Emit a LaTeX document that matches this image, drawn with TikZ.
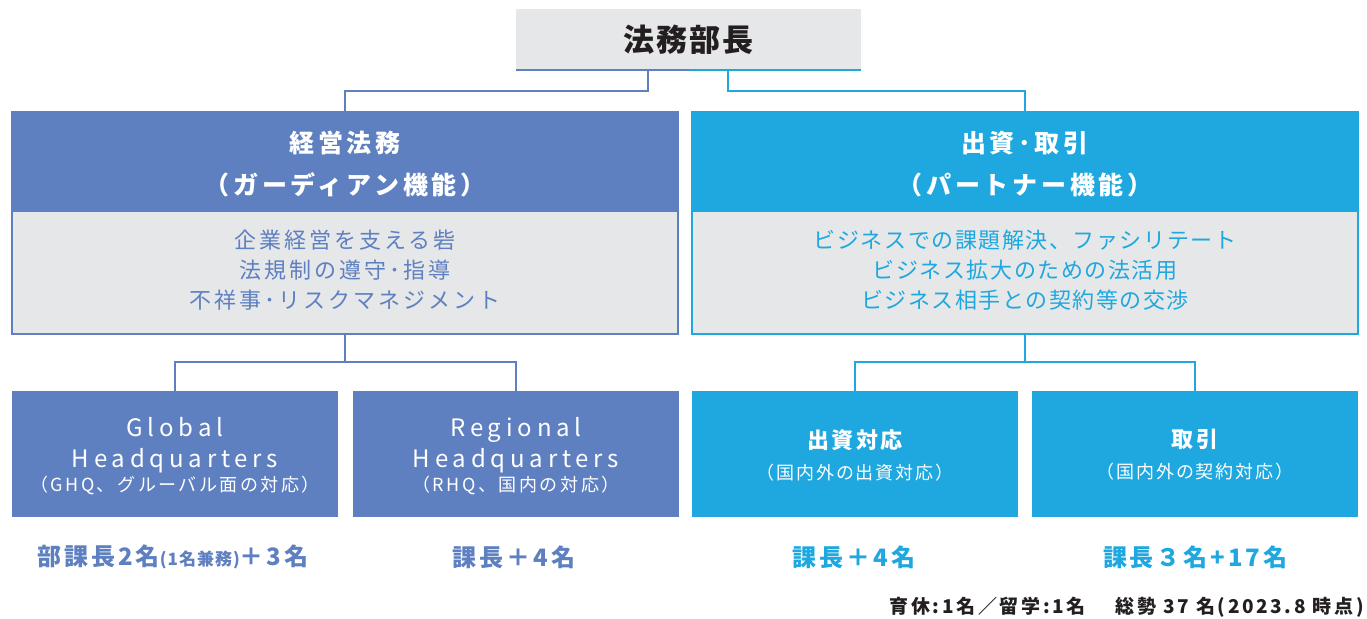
\documentclass[tikz,border=0pt]{standalone}
\usepackage{fontspec}
\setmainfont{Noto Sans CJK JP}
\definecolor{cb}{HTML}{5F80C0}
\definecolor{cc}{HTML}{1EA8DF}
\definecolor{cg}{HTML}{E6E7E8}
\definecolor{ck}{HTML}{231F20}
\newcommand{\ls}[1]{\addfontfeature{LetterSpace=#1}}
\tikzset{
  boxbase/.style={anchor=north west, inner sep=0pt, outer sep=0pt, align=center},
  headbox/.style={boxbase, minimum width=666pt, minimum height=99pt, text=white},
  bodybox/.style={boxbase, minimum width=666pt, minimum height=123pt, fill=cg, line width=2pt},
  unitbox/.style={boxbase, minimum width=326pt, minimum height=126pt, text=white},
  conn/.style={line width=2.5pt},
  count/.style={inner sep=0pt, anchor=center, font=\fontsize{24}{28}\selectfont\bfseries\ls{12}}
}
\begin{document}
\begin{tikzpicture}[x=1pt,y=-1pt]
\useasboundingbox (0,0) rectangle (1367,618);
% top
\node[boxbase, fill=cg, minimum width=345pt, minimum height=61pt, text=ck,
  font=\fontsize{31}{34}\selectfont\bfseries\ls{7}] (top) at (516,9) {法務部長};
\draw[cb, line width=2.5pt] (top.south west) -- (top.south);
\draw[cc, line width=2.5pt] (top.south) -- (top.south east);
% left big
\node[bodybox, draw=cb] (bl) at (12,211) {};
\node[headbox, fill=cb] (hl) at (12,112) {};
\draw[cb, line width=2pt] (hl.north west) rectangle (bl.south east);
\node[text=white, align=center, font=\fontsize{25}{42}\selectfont\bfseries\ls{15}] at ([yshift=-3pt]hl.center) {経営法務\\（ガーディアン機能）};
\node[text=cb, align=center, font=\fontsize{22}{30}\selectfont\ls{14}] at ([yshift=2pt]bl.center) {企業経営を支える砦\\法規制の遵守･指導\\不祥事･リスクマネジメント};
% right big
\node[bodybox, draw=cc] (br) at (692,211) {};
\node[headbox, fill=cc] (hr) at (692,112) {};
\draw[cc, line width=2pt] (hr.north west) rectangle (br.south east);
\node[text=white, align=center, font=\fontsize{25}{42}\selectfont\bfseries\ls{15}] at ([yshift=-3pt]hr.center) {出資･取引\\（パートナー機能）};
\node[text=cc, align=center, font=\fontsize{22}{30}\selectfont\ls{7}] at ([yshift=2pt]br.center) {ビジネスでの課題解決、ファシリテート\\ビジネス拡大のための法活用\\ビジネス相手との契約等の交渉};
% top connectors
\coordinate (jl) at (648,91);
\coordinate (jr) at (728,91);
\draw[cb, conn] (jl |- top.south) -- (jl) -| (hl.north);
\draw[cc, conn] (jr |- top.south) -- (jr) -| (hr.north);
% unit boxes
\node[unitbox, fill=cb] (ghq) at (12,391) {};
\node[unitbox, fill=cb] (rhq) at (353,391) {};
\node[unitbox, fill=cc] (inv) at (692,391) {};
\node[unitbox, fill=cc] (trd) at (1032,391) {};
\node[text=white, align=center, font=\fontsize{24}{31}\selectfont\ls{20}] at ([yshift=-2pt]ghq.center)
  {Global\\Headquarters\\[-7pt]{\fontsize{18}{20}\selectfont\ls{14}（GHQ、グルーバル面の対応）}};
\node[text=white, align=center, font=\fontsize{24}{31}\selectfont\ls{20}] at ([yshift=-2pt]rhq.center)
  {Regional\\Headquarters\\[-7pt]{\fontsize{18}{20}\selectfont\ls{14}（RHQ、国内の対応）}};
\node[text=white, align=center, font=\fontsize{22}{31}\selectfont\bfseries\ls{12}] at ([yshift=-1pt]inv.center)
  {出資対応\\{\fontsize{18}{20}\selectfont\mdseries\ls{10}（国内外の出資対応）}};
\node[text=white, align=center, font=\fontsize{22}{31}\selectfont\bfseries\ls{12}] at ([yshift=-1pt]trd.center)
  {取引\\{\fontsize{18}{20}\selectfont\mdseries\ls{10}（国内外の契約対応）}};
% lower connectors
\coordinate (ml) at (bl.south |- 0,362);
\coordinate (mr) at (br.south |- 0,362);
\draw[cb, conn] (bl.south) -- (ml);
\draw[cb, conn] (ghq.north) |- (ml) -| (rhq.north);
\draw[cc, conn] (br.south) -- (mr);
\draw[cc, conn] (inv.north) |- (mr) -| (trd.north);
% counts
\node[count, text=cb] (c1) at (173,557) {部課長2名{\fontsize{17}{17}\selectfont\ls{6}(1名兼務)}＋3名};
\node[count, text=cb] (c2) at (514,557) {課長＋4名};
\node[count, text=cc] (c3) at (854,557) {課長＋4名};
\node[count, text=cc] (c4) at (1195,557) {課長３名+17名};
\node[inner sep=0pt, anchor=east, text=ck, font=\fontsize{19}{22}\selectfont\bfseries\ls{14}] (foot) at (1364,607)
  {育休:1名／留学:1名\hspace{30pt}総勢 37 名(2023.8 時点)};
\end{tikzpicture}
\end{document}
